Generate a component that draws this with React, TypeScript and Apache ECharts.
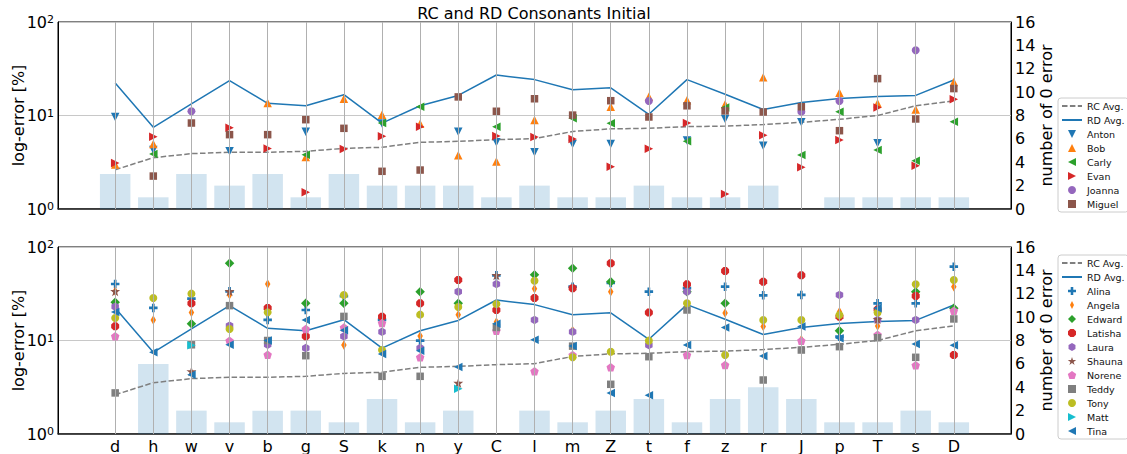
import React, { useEffect, useRef } from 'react';
import * as echarts from 'echarts';

// ---------- data ----------
const categories = ['d', 'h', 'w', 'v', 'b', 'g', 'S', 'k', 'n', 'y', 'C', 'l', 'm', 'Z', 't', 'f', 'z', 'r', 'J', 'p', 'T', 's', 'D'];

const rcAvg = [2.63, 3.54, 3.91, 4.04, 4.04, 4.14, 4.45, 4.57, 5.17, 5.29, 5.52, 5.65, 6.75, 7.2, 7.3, 7.6, 7.7, 8.0, 8.45, 9.1, 10.0, 12.7, 14.3];
const rdAvg = [22.3, 7.47, 13.3, 23.6, 13.5, 12.7, 16.7, 8.3, 12.7, 16.4, 27.1, 24.2, 18.9, 19.8, 10.3, 24.2, 16.9, 11.6, 13.8, 15.2, 16.0, 16.4, 24.0];

const zeroErrTop = [3, 1, 3, 2, 3, 1, 3, 2, 2, 2, 1, 2, 1, 1, 2, 1, 1, 2, 0, 1, 1, 1, 1];
const zeroErrBottom = [0, 6, 2, 1, 2, 2, 1, 3, 1, 2, 0, 2, 1, 2, 3, 1, 3, 4, 3, 1, 1, 2, 1];

// top panel speakers
const anton = [9.64, 4.27, null, 4.14, null, 6.71, null, 8.2, null, 6.71, 5.17, 4.04, 4.96, 4.96, null, 5.4, 9.18, 4.75, 8.46, null, 5.04, null, null];
const bob = [3.0, 4.96, null, null, 13.6, 3.6, 15.1, 10.2, 8.18, 3.75, 3.23, 8.95, null, 12.4, 15.9, 14.6, 13.2, 25.6, null, 17.5, 13.5, 11.6, 22.8];
const carly = [null, 3.88, null, null, null, 3.81, null, 8.3, 12.4, null, 7.6, null, 9.33, 8.25, null, 5.3, 12.2, null, 3.78, 11.0, 4.27, 3.29, 8.59];
const evan = [3.1, 5.94, null, 7.41, 4.45, 1.51, 4.38, 5.99, 7.6, null, 6.04, 5.89, 5.6, 2.83, 4.42, 8.3, 1.45, 6.14, 2.79, 5.47, 12.2, 2.9, 14.9];
const joanna = [null, null, 11.1, null, null, null, null, null, null, null, null, null, null, null, 14.3, null, null, null, 11.0, 14.3, null, 49.8, null];
const miguel = [null, 2.25, 8.31, 6.24, 6.24, 9.02, 7.29, 2.53, 2.61, 15.8, 11.1, 15.1, 10.1, 14.4, 9.64, 12.7, 11.2, 10.9, 12.4, 6.88, 24.8, 9.18, 19.4];

// bottom panel speakers
const alina = [40.2, 22.3, 28.0, 33.6, 16.6, 21.2, 29.8, 16.6, 9.96, null, 49.8, null, 37.6, 41.2, 33.3, 36.4, 37.6, 30.4, 30.7, 11.0, 25.0, 25.0, 61.6];
const angela = [33.6, 16.6, 19.9, 30.9, 40.2, null, 8.95, null, 11.2, 18.9, 15.8, 35.8, 12.8, 33.3, null, null, 19.7, 14.1, 10.2, 20.3, 14.3, null, 37.6];
const edward = [25.6, null, 15.1, 66.9, null, 25.0, 25.0, null, 33.3, 25.0, null, 50.6, 59.2, 42.6, null, 33.3, 25.0, null, null, 12.7, null, 33.3, 22.1];
const latisha = [14.2, null, 25.0, null, 22.3, 11.1, null, 18.0, 25.0, 44.4, 21.2, 28.5, 36.2, 67.0, 19.9, 39.9, 55.4, 42.6, 49.8, 18.0, 21.5, 29.9, 7.0];
const laura = [23.0, null, null, 14.4, 9.02, 8.3, 11.1, 12.4, 8.3, 33.3, 40.2, 16.6, 12.4, null, 8.95, 33.3, null, null, null, 30.7, 16.6, 16.6, null];
const shauna = [33.6, null, 4.68, 33.6, null, null, null, null, null, 3.51, 49.8, null, null, null, null, null, null, null, null, null, 16.9, null, null];
const norene = [11.1, null, null, 9.96, 7.06, 13.3, 13.8, 15.4, 6.61, null, 12.7, 4.68, 7.0, 5.17, null, 7.0, 5.47, null, 9.96, null, 11.5, 5.43, 20.8];
const teddy = [2.75, null, 9.0, 23.6, 10.0, 6.88, 18.1, 4.14, 4.14, null, 13.8, null, 8.7, 3.4, 6.71, 21.2, null, 3.78, 7.91, 8.59, 10.7, 6.61, 17.0];
const tony = [17.4, 28.5, 31.7, 13.3, 20.0, null, 30.7, 7.91, 18.9, 22.8, 24.6, 43.6, 6.61, 7.59, 9.96, 25.0, 7.0, 16.6, 16.6, 18.7, 19.9, 39.9, 44.4];
const matt = [null, null, 8.88, null, null, null, null, null, null, 3.05, null, null, null, null, null, null, null, null, null, null, null, null, null];
const tina = [20.2, 7.47, 4.31, 9.02, 10.0, 16.6, 12.9, 7.17, 7.79, 5.21, 15.1, 10.2, 8.73, 2.75, 2.59, 8.95, 13.8, 6.83, 14.1, 10.6, 22.1, 9.18, 8.89];

// ---------- styles ----------
const FONT = 'DejaVu Sans';
const SYM = {
  down: 'path://M0,0L10,0L5,10Z',
  up: 'path://M5,0L10,10L0,10Z',
  left: 'path://M0,5L10,0L10,10Z',
  right: 'path://M10,5L0,0L0,10Z',
  square: 'path://M0,0H10V10H0Z',
  diamond: 'path://M5,0L10,5L5,10L0,5Z',
  plus: 'path://M3.4,0H6.6V3.4H10V6.6H6.6V10H3.4V6.6H0V3.4H3.4Z',
  thinDiamond: 'path://M5,0L10,10L5,20L0,10Z',
  octagon: 'path://M6.91,0.38L9.62,3.09L9.62,6.91L6.91,9.62L3.09,9.62L0.38,6.91L0.38,3.09L3.09,0.38Z',
  hexagon: 'path://M5,0L9.33,2.5L9.33,7.5L5,10L0.67,7.5L0.67,2.5Z',
  star: 'path://M5,0L6.12,3.45L9.76,3.45L6.82,5.59L7.94,9.05L5,6.91L2.06,9.05L3.18,5.59L0.24,3.45L3.88,3.45Z',
  pentagon: 'path://M5,0L9.76,3.45L7.94,9.05L2.06,9.05L0.24,3.45Z',
};
const C = {
  blue: '#1f77b4', orange: '#ff7f0e', green: '#2ca02c', red: '#d62728', purple: '#9467bd',
  brown: '#8c564b', pink: '#e377c2', gray: '#7f7f7f', olive: '#bcbd22', cyan: '#17becf',
};

const topSpeakers = [
  { name: 'Anton', data: anton, symbol: SYM.down, size: 8.5, color: C.blue },
  { name: 'Bob', data: bob, symbol: SYM.up, size: 8.5, color: C.orange },
  { name: 'Carly', data: carly, symbol: SYM.left, size: 8.5, color: C.green },
  { name: 'Evan', data: evan, symbol: SYM.right, size: 8.5, color: C.red },
  { name: 'Joanna', data: joanna, symbol: 'circle', size: 8, color: C.purple },
  { name: 'Miguel', data: miguel, symbol: SYM.square, size: 7.5, color: C.brown },
];
const bottomSpeakers = [
  { name: 'Alina', data: alina, symbol: SYM.plus, size: 8.5, color: C.blue },
  { name: 'Angela', data: angela, symbol: SYM.thinDiamond, size: [5.5, 9.5], color: C.orange },
  { name: 'Edward', data: edward, symbol: SYM.diamond, size: 9.5, color: C.green },
  { name: 'Latisha', data: latisha, symbol: SYM.octagon, size: 8, color: C.red },
  { name: 'Laura', data: laura, symbol: SYM.hexagon, size: [7.5, 8.5], color: C.purple },
  { name: 'Shauna', data: shauna, symbol: SYM.star, size: 10, color: C.brown },
  { name: 'Norene', data: norene, symbol: SYM.pentagon, size: 8.5, color: C.pink },
  { name: 'Teddy', data: teddy, symbol: SYM.square, size: 7.5, color: C.gray },
  { name: 'Tony', data: tony, symbol: 'circle', size: 8, color: C.olive },
  { name: 'Matt', data: matt, symbol: SYM.right, size: 8.5, color: C.cyan },
  { name: 'Tina', data: tina, symbol: SYM.left, size: 8.5, color: C.blue },
];

const xCats = ['', ...categories, ' '];
const toPairs = (arr: (number | null)[]) =>
  arr.map((v, i) => (v == null ? null : [i + 1, v])).filter((p) => p !== null);

function buildOption() {
  const grids = [
    { left: 58, top: 22, width: 953, height: 187 },
    { left: 58, top: 247, width: 953, height: 187 },
  ];
  const xAxes: any[] = [];
  const yAxes: any[] = [];
  const series: any[] = [];
  const panels = [
    { speakers: topSpeakers, bars: zeroErrTop, showX: false },
    { speakers: bottomSpeakers, bars: zeroErrBottom, showX: true },
  ];

  panels.forEach((p, g) => {
    xAxes.push({
      gridIndex: g,
      type: 'category',
      data: xCats,
      boundaryGap: true,
      axisLine: { show: true, lineStyle: { color: '#222', width: 1.5 } },
      axisTick: { show: false },
      splitLine: { show: false },
      axisLabel: {
        show: p.showX,
        interval: 0,
        fontSize: 16,
        color: '#000',
        fontFamily: FONT,
        margin: 4,
      },
    });
    yAxes.push({
      gridIndex: g,
      type: 'log',
      logBase: 10,
      min: 1,
      max: 100,
      position: 'left',
      name: 'log-error [%]',
      nameLocation: 'middle',
      nameGap: 32,
      nameMoveOverlap: false,
      nameTextStyle: { fontSize: 16, color: '#000', fontFamily: FONT },
      axisLine: { show: true, lineStyle: { color: '#000', width: 1 } },
      axisTick: { show: false },
      minorTick: { show: false },
      splitLine: { show: true, lineStyle: { color: '#c8c8c8', width: 1 } },
      axisLabel: {
        margin: 4,
        color: '#000',
        formatter: (v: number) => `{b|10}{s|${Math.round(Math.log10(v))}}`,
        rich: {
          b: { fontSize: 16, fontFamily: FONT, color: '#000' },
          s: { fontSize: 11, fontFamily: FONT, color: '#000', verticalAlign: 'top' },
        },
      },
    });
    yAxes.push({
      gridIndex: g,
      type: 'value',
      min: 0,
      max: 16,
      interval: 2,
      position: 'right',
      name: 'number of 0 error',
      nameLocation: 'middle',
      nameGap: 27,
      nameMoveOverlap: false,
      nameTextStyle: { fontSize: 16, color: '#000', fontFamily: FONT },
      axisLine: { show: true, lineStyle: { color: '#000', width: 1 } },
      axisTick: { show: false },
      splitLine: { show: false },
      axisLabel: { fontSize: 16, color: '#000', fontFamily: FONT, margin: 4 },
    });

    const logY = 2 * g;
    const cntY = 2 * g + 1;

    series.push({
      name: 'zero' + g,
      type: 'bar',
      xAxisIndex: g,
      yAxisIndex: cntY,
      data: p.bars.map((v, i) => [i + 1, v]),
      barWidth: '80%',
      itemStyle: { color: 'rgba(31,119,180,0.2)' },
      z: 1,
      silent: true,
    });
    series.push({
      name: 'grid' + g,
      type: 'line',
      xAxisIndex: g,
      yAxisIndex: logY,
      data: [],
      symbol: 'none',
      z: 2,
      silent: true,
      markLine: {
        silent: true,
        symbol: ['none', 'none'],
        label: { show: false },
        animation: false,
        lineStyle: { color: '#b0b0b0', width: 1, type: 'solid' },
        emphasis: { disabled: true },
        data: categories.map((c, i) => ({ xAxis: i + 1 })),
      },
    });
    series.push({
      name: 'RC Avg.',
      type: 'line',
      xAxisIndex: g,
      yAxisIndex: logY,
      data: rcAvg.map((v, i) => [i + 1, v]),
      symbol: 'none',
      lineStyle: { color: C.gray, width: 1.5, type: [5.5, 2.4] },
      itemStyle: { color: C.gray },
      z: 3,
    });
    series.push({
      name: 'RD Avg.',
      type: 'line',
      xAxisIndex: g,
      yAxisIndex: logY,
      data: rdAvg.map((v, i) => [i + 1, v]),
      symbol: 'none',
      lineStyle: { color: C.blue, width: 1.5 },
      itemStyle: { color: C.blue },
      z: 3,
    });
    p.speakers.forEach((s) => {
      series.push({
        name: s.name,
        type: 'scatter',
        xAxisIndex: g,
        yAxisIndex: logY,
        data: toPairs(s.data),
        symbol: s.symbol,
        symbolSize: s.size,
        itemStyle: { color: s.color, opacity: 1 },
        z: 4,
      });
    });
  });

  const legendBase = {
    orient: 'vertical',
    left: 1058,
    padding: [3, 4, 3, 3],
    itemWidth: 20,
    itemHeight: 8,
    itemGap: 4,
    selectedMode: false,
    borderColor: '#cccccc',
    borderWidth: 1,
    borderRadius: 3,
    backgroundColor: '#ffffff',
    textStyle: { fontSize: 9.5, color: '#111', fontFamily: FONT },
  };
  const lineItems = [
    { name: 'RC Avg.', itemStyle: { opacity: 0 } },
    { name: 'RD Avg.', itemStyle: { opacity: 0 } },
  ];

  return {
    animation: false,
    textStyle: { fontFamily: FONT },
    title: {
      text: 'RC and RD Consonants Initial',
      left: 534,
      top: 5,
      padding: 0,
      textAlign: 'center',
      textStyle: { fontSize: 16, fontWeight: 'normal', color: '#000', fontFamily: FONT },
    },
    grid: grids.map((gr) => ({
      ...gr,
      show: true,
      borderColor: '#000',
      borderWidth: 1,
      backgroundColor: 'transparent',
      containLabel: false,
      outerBoundsMode: 'none',
    })),
    legend: [
      { ...legendBase, top: 98, data: [...lineItems, ...topSpeakers.map((s) => s.name)] },
      { ...legendBase, top: 255, data: [...lineItems, ...bottomSpeakers.map((s) => s.name)] },
    ],
    xAxis: xAxes,
    yAxis: yAxes,
    series,
  };
}

export default function App() {
  const ref = useRef<HTMLDivElement>(null);
  useEffect(() => {
    document.body.style.margin = '0';
    const chart = echarts.init(ref.current as HTMLDivElement, null, { renderer: 'svg' });
    chart.setOption(buildOption() as any);
    return () => chart.dispose();
  }, []);
  return <div ref={ref} style={{ width: 1127, height: 454, overflow: 'hidden' }} />;
}
